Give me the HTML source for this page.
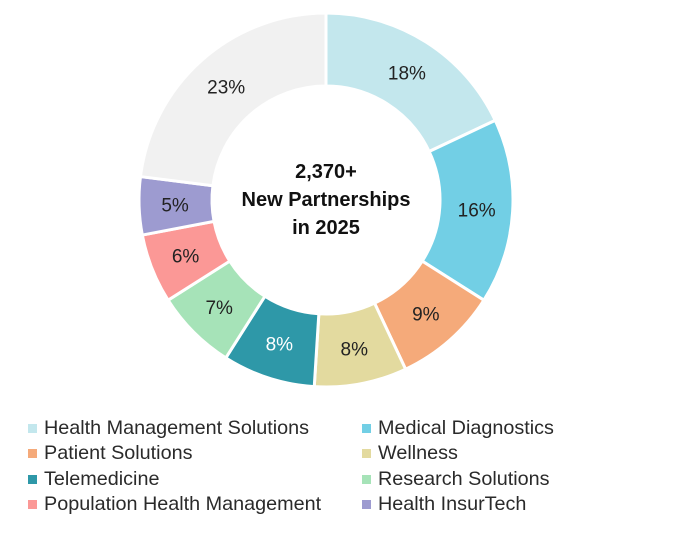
<!DOCTYPE html>
<html><head><meta charset="utf-8"><style>
body{margin:0;background:#fff;width:674px;height:546px;overflow:hidden;font-family:"Liberation Sans",sans-serif;}
.lg{position:absolute;font-size:19.8px;color:#2a2a2a;white-space:nowrap;line-height:20px}
.lg i{position:absolute;left:-16px;top:6px;width:9px;height:9px}
</style></head><body>
<svg id="s" width="674" height="400" style="position:absolute;left:0;top:0"></svg>
<script>
var d=[[18,'#c3e7ed','#222'],[16,'#72cfe5','#222'],[9,'#f5aa7a','#222'],[8,'#e3da9f','#222'],[8,'#2e98a8','#fff'],[7,'#a6e3b8','#222'],[6,'#fb9896','#222'],[5,'#9d9bd0','#222'],[23,'#f1f1f1','#222']];
var cx=326,cy=200,R=187,r=114,a=0,h='';
function p(rad,ang){return [cx+rad*Math.sin(ang),cy-rad*Math.cos(ang)];}
d.forEach(function(e){var a0=a*Math.PI/50,a1=(a+e[0])*Math.PI/50;a+=e[0];
var o0=p(R,a0),o1=p(R,a1),i1=p(r,a1),i0=p(r,a0),lg=(a1-a0)>Math.PI?1:0;
h+='<path d="M'+o0+' A'+R+','+R+' 0 '+lg+' 1 '+o1+' L'+i1+' A'+r+','+r+' 0 '+lg+' 0 '+i0+'Z" fill="'+e[1]+'" stroke="#fff" stroke-width="3"/>';
var m=p(151,(a0+a1)/2);h+='<text x="'+m[0]+'" y="'+(m[1]+7)+'" text-anchor="middle" font-size="19" fill="'+e[2]+'">'+e[0]+'%</text>';});
h+='<text text-anchor="middle" font-size="20" font-weight="bold" fill="#111"><tspan x="326" y="178">2,370+</tspan><tspan x="326" y="206">New Partnerships</tspan><tspan x="326" y="234">in 2025</tspan></text>';
document.getElementById('s').innerHTML=h;
</script>
<div class="lg" style="left:44px;top:418px"><i style="background:#c3e7ed"></i>Health Management Solutions</div>
<div class="lg" style="left:378px;top:418px"><i style="background:#72cfe5"></i>Medical Diagnostics</div>
<div class="lg" style="left:44px;top:443px"><i style="background:#f5aa7a"></i>Patient Solutions</div>
<div class="lg" style="left:378px;top:443px"><i style="background:#e3da9f"></i>Wellness</div>
<div class="lg" style="left:44px;top:469px"><i style="background:#2e98a8"></i>Telemedicine</div>
<div class="lg" style="left:378px;top:469px"><i style="background:#a6e3b8"></i>Research Solutions</div>
<div class="lg" style="left:44px;top:494px"><i style="background:#fb9896"></i>Population Health Management</div>
<div class="lg" style="left:378px;top:494px"><i style="background:#9d9bd0"></i>Health InsurTech</div>
</body></html>
